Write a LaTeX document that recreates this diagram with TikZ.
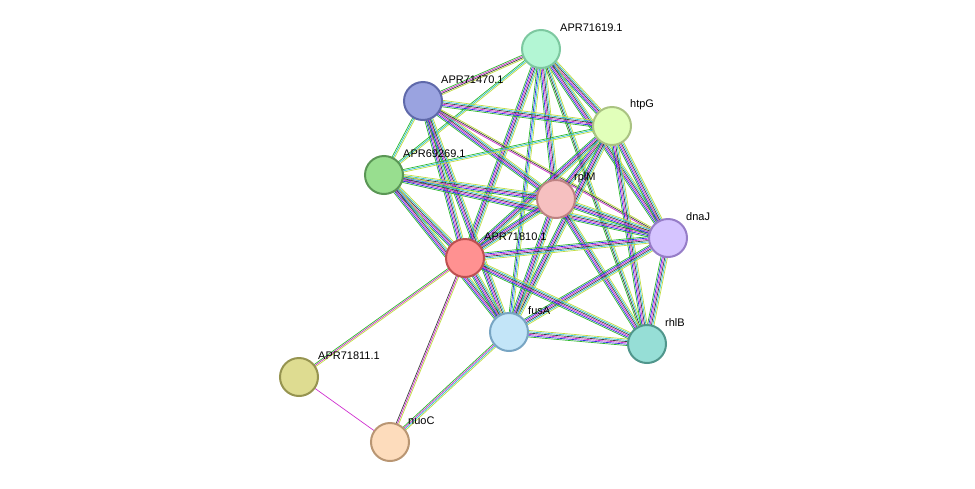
\documentclass[tikz,border=0pt]{standalone}
\usepackage{fontspec}
\setmainfont{Liberation Sans}
\usetikzlibrary{calc}
\definecolor{eGreen}{HTML}{2DB82D}
\definecolor{eBlue}{HTML}{3030E0}
\definecolor{eMag}{HTML}{D030D0}
\definecolor{eBlack}{HTML}{404040}
\definecolor{eCyan}{HTML}{30C0D0}
\definecolor{eYel}{HTML}{C0DC40}
\tikzset{
  prot/.style={circle,minimum size=38pt,inner sep=0pt,line width=2pt},
  lbl/.style={anchor=west,inner sep=0pt,font=\fontsize{11}{13}\selectfont}
}
% multi-coloured edge: \stredge{from}{to}{colours}
\newcommand\stredge[3]{%
  \foreach \c [count=\n] in {#3}{\xdef\ncol{\n}}%
  \path let \p1=($(#2)-(#1)$), \n1={atan2(\y1,\x1)+90} in \pgfextra{\xdef\ang{\n1}};
  \foreach \c [count=\i] in {#3}{%
    \pgfmathsetmacro\off{(\i-(\ncol+1)/2)*1.3}
    \draw[\c,line width=0.7pt] ([shift={(\ang:\off pt)}]#1) -- ([shift={(\ang:\off pt)}]#2);
  }%
}
\begin{document}
\begin{tikzpicture}[x=1pt,y=-1pt]
\useasboundingbox (0,0) rectangle (975,488);
% positions
\coordinate (a19) at (541,49);
\coordinate (a70) at (423,101);
\coordinate (htpG) at (612,126);
\coordinate (a69) at (384,175);
\coordinate (rplM) at (556,199);
\coordinate (dnaJ) at (668,238);
\coordinate (a10) at (465,258);
\coordinate (fusA) at (509,332);
\coordinate (rhlB) at (647,344);
\coordinate (a11) at (299,377);
\coordinate (nuoC) at (390,442);
% edges
\stredge{a19}{a70}{eGreen,eMag,eBlack,eYel}
\stredge{a19}{htpG}{eGreen,eBlue,eMag,eBlack,eCyan,eYel}
\stredge{a19}{a69}{eGreen,eCyan,eYel}
\stredge{a19}{rplM}{eGreen,eBlue,eMag,eBlack,eCyan,eYel}
\stredge{a19}{dnaJ}{eGreen,eBlue,eMag,eBlack,eCyan,eYel}
\stredge{a19}{a10}{eGreen,eBlue,eMag,eBlack,eCyan,eYel}
\stredge{a19}{fusA}{eGreen,eBlue,eCyan,eYel}
\stredge{a19}{rhlB}{eGreen,eBlack,eCyan,eYel}
\stredge{a70}{htpG}{eGreen,eBlue,eMag,eBlack,eCyan,eYel}
\stredge{a70}{a69}{eGreen,eCyan,eYel}
\stredge{a70}{rplM}{eGreen,eBlue,eMag,eBlack,eCyan,eYel}
\stredge{a70}{dnaJ}{eMag,eBlack,eYel}
\stredge{a70}{a10}{eGreen,eBlue,eMag,eBlack,eCyan,eYel}
\stredge{a70}{fusA}{eGreen,eBlue,eMag,eBlack,eCyan,eYel}
\stredge{htpG}{a69}{eGreen,eCyan,eYel}
\stredge{htpG}{rplM}{eGreen,eBlue,eMag,eBlack,eCyan,eYel}
\stredge{htpG}{dnaJ}{eGreen,eBlue,eMag,eBlack,eCyan,eYel}
\stredge{htpG}{a10}{eGreen,eBlue,eMag,eBlack,eCyan,eYel}
\stredge{htpG}{fusA}{eGreen,eBlue,eMag,eBlack,eCyan,eYel}
\stredge{htpG}{rhlB}{eGreen,eBlue,eMag,eBlack,eCyan,eYel}
\stredge{a69}{rplM}{eGreen,eBlue,eMag,eBlack,eCyan,eYel}
\stredge{a69}{dnaJ}{eGreen,eBlue,eMag,eBlack,eCyan,eYel}
\stredge{a69}{a10}{eGreen,eBlue,eMag,eBlack,eCyan,eYel}
\stredge{a69}{fusA}{eGreen,eBlue,eMag,eBlack,eCyan,eYel}
\stredge{rplM}{dnaJ}{eGreen,eBlue,eMag,eBlack,eCyan,eYel}
\stredge{rplM}{a10}{eGreen,eBlue,eMag,eBlack,eCyan,eYel}
\stredge{rplM}{fusA}{eGreen,eBlue,eMag,eBlack,eCyan,eYel}
\stredge{rplM}{rhlB}{eGreen,eBlue,eMag,eBlack,eCyan,eYel}
\stredge{dnaJ}{a10}{eGreen,eBlue,eMag,eBlack,eCyan,eYel}
\stredge{dnaJ}{fusA}{eGreen,eBlue,eMag,eBlack,eCyan,eYel}
\stredge{dnaJ}{rhlB}{eGreen,eBlue,eMag,eBlack,eCyan,eYel}
\stredge{a10}{fusA}{eGreen,eBlue,eMag,eBlack,eCyan,eYel}
\stredge{a10}{rhlB}{eGreen,eBlue,eMag,eBlack,eCyan,eYel}
\stredge{fusA}{rhlB}{eGreen,eBlue,eMag,eBlack,eCyan,eYel}
\stredge{a10}{a11}{eGreen,eMag,eYel}
\stredge{a10}{nuoC}{eBlack,eMag,eYel}
\stredge{fusA}{nuoC}{eGreen,eMag,eCyan,eYel}
\stredge{a11}{nuoC}{eMag}
% proteins
\node[prot,fill={rgb,255:red,179;green,246;blue,212},draw={rgb,255:red,125;green,200;blue,160}] (n19) at (a19) {};
\node[prot,fill={rgb,255:red,154;green,163;blue,224},draw={rgb,255:red,95;green,105;blue,170}] (n70) at (a70) {};
\node[prot,fill={rgb,255:red,225;green,255;blue,186},draw={rgb,255:red,170;green,195;blue,130}] (nhtpG) at (htpG) {};
\node[prot,fill={rgb,255:red,152;green,222;blue,143},draw={rgb,255:red,90;green,150;blue,85}] (n69) at (a69) {};
\node[prot,fill={rgb,255:red,246;green,192;blue,192},draw={rgb,255:red,190;green,130;blue,130}] (nrplM) at (rplM) {};
\node[prot,fill={rgb,255:red,213;green,196;blue,255},draw={rgb,255:red,150;green,125;blue,200}] (ndnaJ) at (dnaJ) {};
\node[prot,fill={rgb,255:red,255;green,145;blue,145},draw={rgb,255:red,190;green,80;blue,80}] (n10) at (a10) {};
\node[prot,fill={rgb,255:red,195;green,229;blue,248},draw={rgb,255:red,120;green,165;blue,195}] (nfusA) at (fusA) {};
\node[prot,fill={rgb,255:red,150;green,222;blue,214},draw={rgb,255:red,80;green,150;blue,140}] (nrhlB) at (rhlB) {};
\node[prot,fill={rgb,255:red,222;green,220;blue,145},draw={rgb,255:red,150;green,148;blue,80}] (n11) at (a11) {};
\node[prot,fill={rgb,255:red,253;green,220;blue,188},draw={rgb,255:red,185;green,150;blue,115}] (nnuoC) at (nuoC) {};
% labels
\node[lbl] (l19) at ([shift={(19,-21)}]a19) {APR71619.1};
\node[lbl] (l70) at ([shift={(18,-21)}]a70) {APR71470.1};
\node[lbl] (lhtpG) at ([shift={(18,-21)}]htpG) {htpG};
\node[lbl] (l69) at ([shift={(19,-21)}]a69) {APR69269.1};
\node[lbl] (lrplM) at ([shift={(18,-21)}]rplM) {rplM};
\node[lbl] (ldnaJ) at ([shift={(18,-21)}]dnaJ) {dnaJ};
\node[lbl] (l10) at ([shift={(19,-21)}]a10) {APR71810.1};
\node[lbl] (lfusA) at ([shift={(19,-21)}]fusA) {fusA};
\node[lbl] (lrhlB) at ([shift={(18,-21)}]rhlB) {rhlB};
\node[lbl] (l11) at ([shift={(19,-21)}]a11) {APR71811.1};
\node[lbl] (lnuoC) at ([shift={(18,-21)}]nuoC) {nuoC};
\end{tikzpicture}
\end{document}
